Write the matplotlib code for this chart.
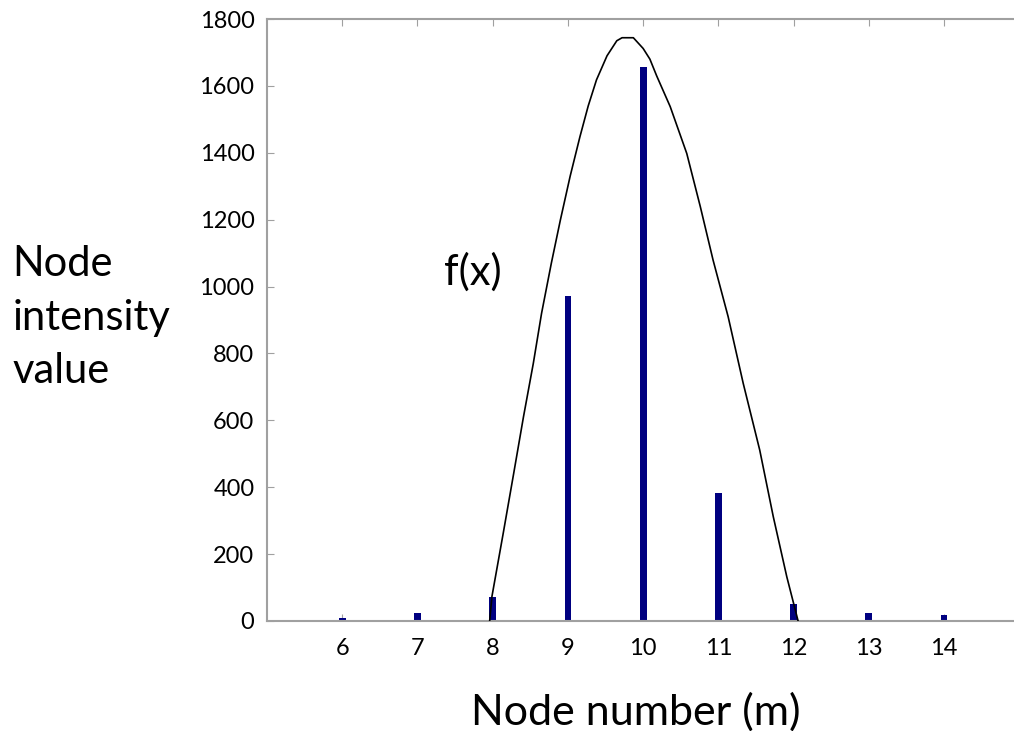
import numpy as np
import matplotlib.pyplot as plt

plt.rcParams['font.family'] = ['Lato', 'DejaVu Sans']

# node number vs intensity (bars)
nodes = [6, 7, 8, 9, 10, 11, 12, 13, 14]
intensity = [8, 25, 71, 972, 1655, 383, 50, 25, 18]

# f(x) curve, points
fx_x = [7.96, 7.99, 8.14, 8.28, 8.41, 8.54, 8.65, 8.78, 8.90, 9.03, 9.16, 9.27, 9.38,
        9.52, 9.65, 9.72, 9.87, 10.0, 10.09, 10.18, 10.36, 10.58, 10.76, 10.93,
        11.13, 11.33, 11.55, 11.73, 11.91, 12.06]
fx_y = [0, 73, 262, 442, 611, 770, 920, 1070, 1199, 1330, 1448, 1540, 1618,
        1690, 1735, 1744, 1744, 1712, 1680, 1630, 1538, 1398, 1239, 1079,
        910, 711, 511, 312, 132, 0]

yticks = [0, 200, 400, 600, 800, 1000, 1200, 1400, 1600, 1800]

fig = plt.figure(figsize=(10.14, 7.31), dpi=100)
ax = fig.add_axes([0.2633, 0.1505, 0.7367, 0.8235])

ax.bar(nodes, intensity, width=0.09, color='#000080', zorder=2)
ax.plot(fx_x, fx_y, color='black', lw=1.2, zorder=3)

ax.set_xlim(5, 14.93)
ax.set_ylim(0, 1800)
ax.set_xticks(nodes)
ax.set_yticks(yticks)
ax.tick_params(direction='in', length=5, color='#a0a0a0', labelsize=17,
               top=True)
ax.tick_params(axis='x', pad=12)
ax.tick_params(axis='y', pad=9)
for s in ['left', 'top', 'bottom']:
    ax.spines[s].set_color('#a0a0a0')
    ax.spines[s].set_linewidth(1.5)
ax.spines['right'].set_visible(False)

fig.text(0.012, 0.565, 'Node\nintensity\nvalue', fontsize=30, ha='left',
         va='center', linespacing=1.5)
fig.text(0.4379, 0.628, 'f(x)', fontsize=30, ha='left', va='center')
fig.text(0.627, 0.026, 'Node number (m)', fontsize=31, ha='center', va='center')

fig.savefig('out.png', dpi=100)
